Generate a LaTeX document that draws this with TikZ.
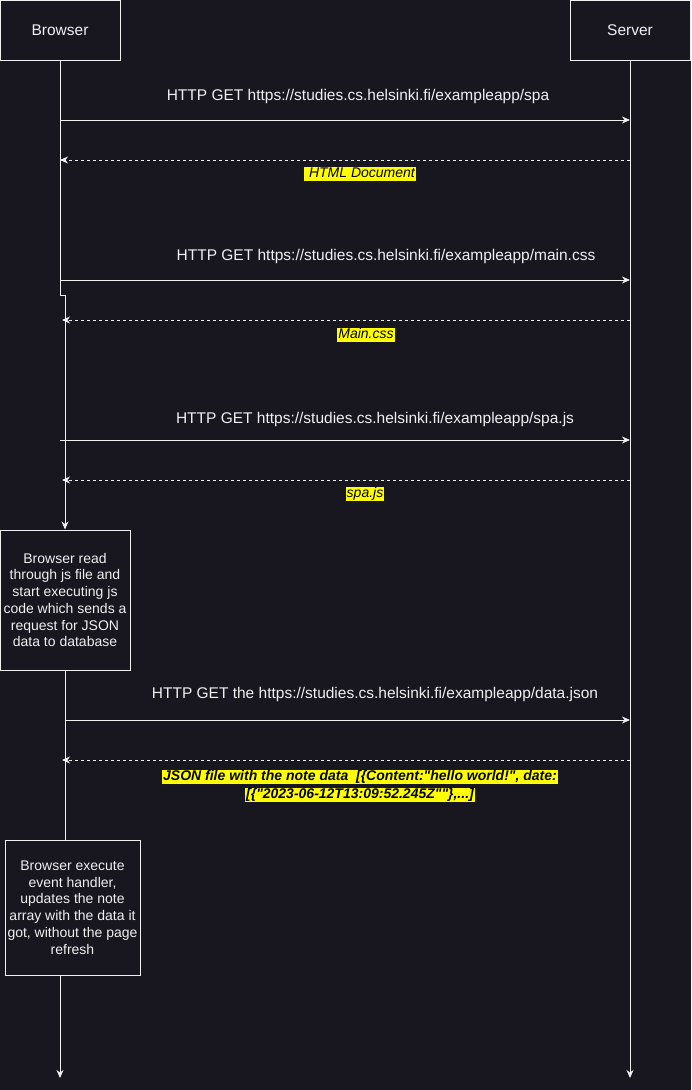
\documentclass[tikz,border=0pt]{standalone}
\usepackage{fontspec}
\setmainfont{Liberation Sans}
\newfontfamily\jsonfont{Liberation Sans}
\usetikzlibrary{arrows.meta}
\definecolor{bg}{RGB}{24,22,31}
\definecolor{fg}{RGB}{240,240,240}
\definecolor{hl}{RGB}{255,255,0}
\begin{document}
\begin{tikzpicture}[x=1pt,y=-1pt,
  every node/.style={text=fg},
  actor/.style={draw=fg, line width=1pt, minimum width=120pt, minimum height=60pt, inner sep=0pt, font=\fontsize{15.5}{18}\selectfont},
  procbox/.style={draw=fg, line width=1pt, align=center, inner sep=0pt, font=\fontsize{14}{16.7}\selectfont},
  msg/.style={anchor=base, inner sep=0pt, font=\fontsize{15.5}{18}\selectfont},
  reply/.style={fill=hl, text=black, inner xsep=1pt, inner ysep=0pt, text height=11pt, text depth=3.5pt, font=\fontsize{14}{16}\selectfont\itshape},
  breply/.style={reply, font=\fontsize{14}{16}\selectfont\jsonfont\bfseries\itshape},
  line/.style={draw=fg, line width=1pt},
  arr/.style={line, -{Stealth[length=8pt,width=7pt,inset=2.5pt]}},
  darr/.style={arr, dash pattern=on 3pt off 3pt}
]
\fill[bg] (0,0) rectangle (691,1090);
\useasboundingbox (0,0) rectangle (691,1090);

% actors
\node[actor] (browser) at (60,30) {Browser};
\node[actor] (server) at (630,30) {Server};

% activity boxes
\node[procbox, minimum width=130pt, minimum height=140pt] (read) at (65,600)
  {Browser read\\through js file and\\start executing js\\code which sends a\\request for JSON\\data to database};
\node[procbox, minimum width=135pt, minimum height=135pt] (exec) at (72.5,907.5)
  {Browser execute\\event handler,\\updates the note\\array with the data it\\got, without the page\\refresh};

% lifeline coordinates
\coordinate (bj1) at (60,295);
\coordinate (bj2) at (65,295);
\coordinate (bend) at (60,1078);
\coordinate (send) at (630,1078);

% lifelines
\draw[arr] (browser.south) -- (bj1) -- (bj2) -- (read.north);
\draw[line] (read.south) -- (read.south |- exec.north);
\draw[arr] (exec.south -| bend) -- (bend);
\draw[arr] (server.south) -- (send);

% message end points
\coordinate (a1) at (60,120);  \coordinate (b1) at (630,120);
\coordinate (a2) at (60,160);  \coordinate (b2) at (630,160);
\coordinate (a3) at (60,280);  \coordinate (b3) at (630,280);
\coordinate (a4) at (62,320);  \coordinate (b4) at (630,320);
\coordinate (a5) at (60,440);  \coordinate (b5) at (630,440);
\coordinate (a6) at (62,480);  \coordinate (b6) at (630,480);
\coordinate (a8) at (65,720);  \coordinate (b8) at (630,720);
\coordinate (a9) at (62,760);  \coordinate (b9) at (630,760);

% messages
\draw[arr] (a1) -- (b1);
\draw[darr] (b2) -- (a2);
\draw[arr] (a3) -- (b3);
\draw[darr] (b4) -- (a4);
\draw[arr] (a5) -- (b5);
\draw[darr] (b6) -- (a6);
\draw[arr] (a8) -- (b8);
\draw[darr] (b9) -- (a9);

% labels
\node[msg] (l1) at (358,100) {HTTP GET https://studies.cs.helsinki.fi/exampleapp/spa};
\node[reply] (l2) at (360,174) {\ HTML Document};
\node[msg] (l3) at (386,260) {HTTP GET https://studies.cs.helsinki.fi/exampleapp/main.css};
\node[reply] (l4) at (366,335) {Main.css};
\node[msg] (l5) at (375,423.5) {HTTP GET https://studies.cs.helsinki.fi/exampleapp/spa.js};
\node[reply] (l6) at (365,494) {spa.js};
\node[msg] (l8) at (375,698.5) {HTTP GET the https://studies.cs.helsinki.fi/exampleapp/data.json};
\node[breply] (l9a) at (360,777) {JSON file with the note data\ \ [\{Content:"hello world!", date:};
\node[breply] (l9b) at (360,795) {[\{"2023-06-12T13:09:52.245Z""\},...]};
\end{tikzpicture}
\end{document}
